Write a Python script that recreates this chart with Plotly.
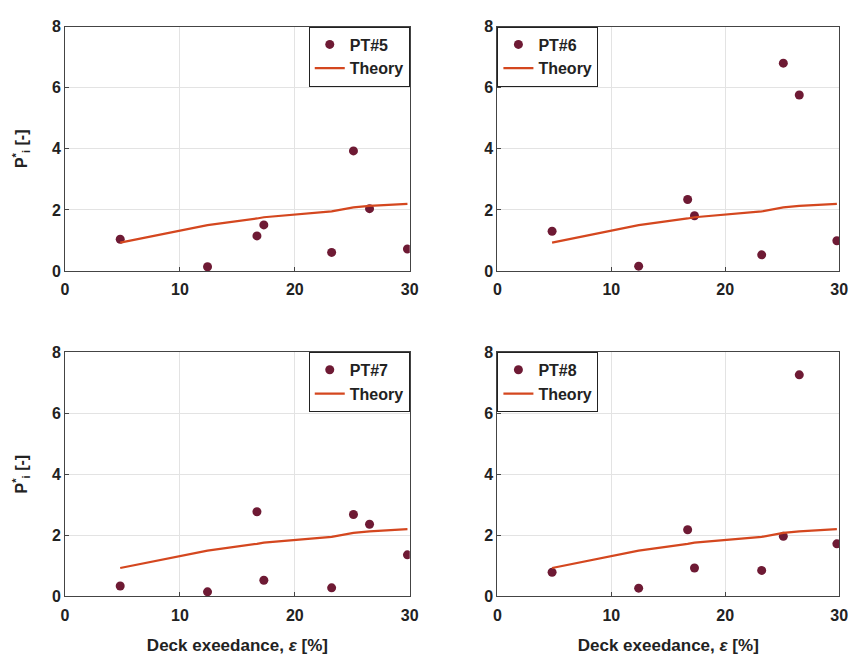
import plotly.graph_objects as go

# Deck exceedance values (%) shared by all panels
exceedance = [4.8, 12.4, 16.7, 17.3, 23.2, 25.1, 26.5, 29.8]
theory = [0.93, 1.50, 1.72, 1.76, 1.95, 2.08, 2.13, 2.20]

pt5 = [1.04, 0.14, 1.15, 1.51, 0.61, 3.93, 2.04, 0.72]
pt6 = [1.30, 0.16, 2.34, 1.81, 0.53, 6.80, 5.76, 0.99]
pt7 = [0.34, 0.15, 2.77, 0.53, 0.28, 2.68, 2.36, 1.36]
pt8 = [0.79, 0.27, 2.18, 0.93, 0.85, 1.97, 7.25, 1.72]

series = [("PT#5", pt5), ("PT#6", pt6), ("PT#7", pt7), ("PT#8", pt8)]

W, H = 858, 659
# panel pixel boxes (left, right, top, bottom)
boxes = [(62, 412, 19, 270), (501, 848, 19, 270), (62, 412, 353, 604), (501, 848, 353, 604)]

marker_color = "#6e1a34"
line_color = "#d4471f"
font_family = "Liberation Sans, Arial, sans-serif"
txt = "#222222"

fig = go.Figure()
layout = dict(
    width=W, height=H,
    margin=dict(l=0, r=0, t=0, b=0),
    paper_bgcolor="white", plot_bgcolor="white",
    font=dict(family=font_family, size=16, color=txt, weight="bold"),
    showlegend=True,
)

for i, ((name, vals), (l, r, t, b)) in enumerate(zip(series, boxes)):
    k = "" if i == 0 else str(i + 1)
    xa = "x" + k
    ya = "y" + k
    lg = "legend" + k
    fig.add_trace(go.Scatter(
        x=exceedance, y=vals, mode="markers", name=name,
        marker=dict(color=marker_color, size=9),
        xaxis=xa, yaxis=ya, legend=lg,
    ))
    fig.add_trace(go.Scatter(
        x=exceedance, y=theory, mode="lines", name="Theory",
        line=dict(color=line_color, width=2.2),
        xaxis=xa, yaxis=ya, legend=lg,
    ))
    xd = [l / W, r / W]
    yd = [1 - b / H, 1 - t / H]
    axis_common = dict(
        showgrid=True, gridcolor="#e3e3e3", gridwidth=1,
        showline=True, linecolor="#444444", linewidth=1, mirror=True,
        ticks="inside", ticklen=4, tickcolor="#444444",
        tickfont=dict(size=16, family=font_family, color=txt, weight="bold"),
        zeroline=False,
    )
    layout["xaxis" + k] = dict(
        domain=xd, range=[0, 30], tickvals=[0, 10, 20, 30], anchor=ya,
        ticklabelstandoff=4,
        title=dict(text="Deck exeedance, <i>ε</i> [%]", standoff=16,
                   font=dict(size=17, family=font_family, color=txt, weight="bold")) if i >= 2 else None,
        **axis_common,
    )
    layout["yaxis" + k] = dict(
        domain=yd, range=[0, 8], tickvals=[0, 2, 4, 6, 8], anchor=xa,
        title=dict(text="P<sup>*</sup><sub>i</sub> [-]", standoff=20,
                   font=dict(size=16, family=font_family, color=txt, weight="bold")) if i % 2 == 0 else None,
        **axis_common,
    )
    left_side = (i % 2 == 1)
    layout[lg] = dict(
        x=xd[0] if left_side else xd[1],
        xanchor="left" if left_side else "right",
        y=yd[1], yanchor="top",
        bgcolor="white", bordercolor="#222222", borderwidth=1,
        font=dict(size=16, family=font_family, color=txt, weight="bold"),
        tracegroupgap=0, itemwidth=30,
    )

fig.update_layout(**layout)
fig.write_html("out.html")
